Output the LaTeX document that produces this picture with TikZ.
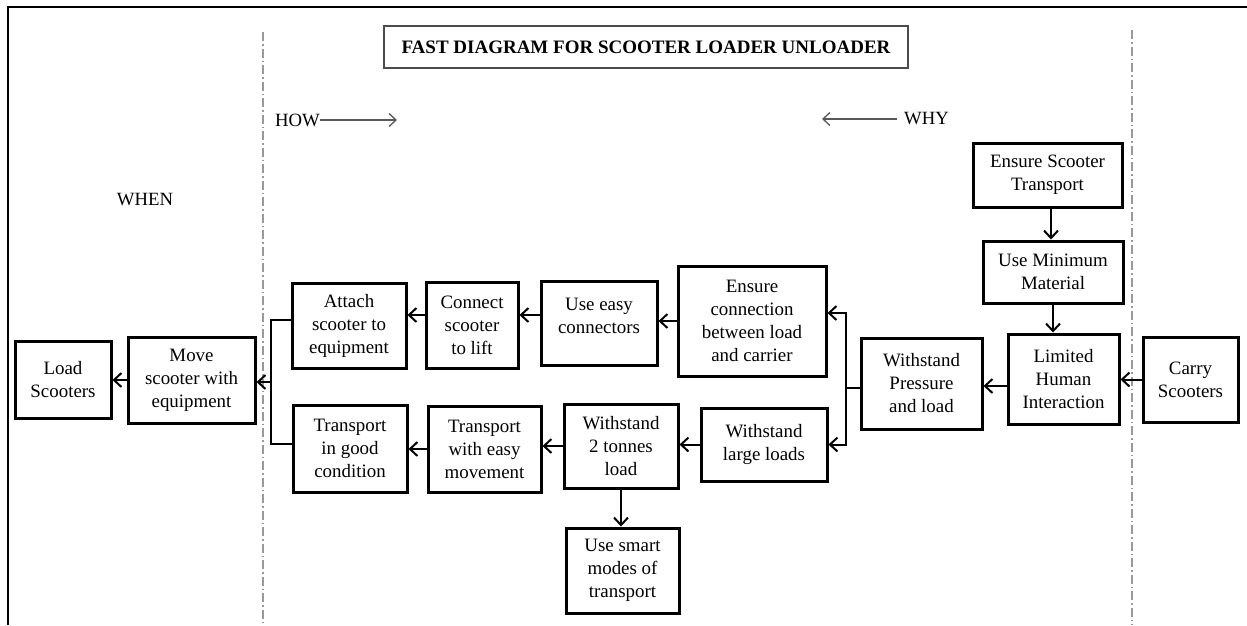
\documentclass[tikz,border=0pt]{standalone}
\usepackage{fontspec}
\setmainfont{Liberation Serif}
\usetikzlibrary{arrows.meta}
\begin{document}
\begin{tikzpicture}[x=1pt,y=-1pt,
  fbox/.style={draw, line width=3pt, align=center, inner sep=2pt, font=\fontsize{18.9}{23}\selectfont},
  arr/.style={line width=2pt, -{Straight Barb[length=7.5pt,width=14pt,line width=2pt]}},
  conn/.style={line width=2pt},
  guide/.style={draw=gray!80, line width=1.4pt, dash pattern=on 9pt off 3pt on 1.5pt off 3pt},
  lab/.style={font=\fontsize{18.7}{23}\selectfont, inner sep=0pt},
  thinarr/.style={draw=black!65, line width=1.3pt, -{Straight Barb[length=7pt,width=13pt,line width=1.3pt]}}
]
\useasboundingbox (0,0) rectangle (1247,625);
% frame and guide lines
\draw[line width=2pt] (8,625) -- (8,7) -- (1247,7);
\draw[guide] (263,32) -- (263,625);
\draw[guide] (1132,30) -- (1132,625);
% title
\node[draw=black!70, line width=1.3pt, minimum width=524pt, minimum height=42pt, inner sep=0pt,
  font=\fontsize{19}{23}\selectfont\bfseries] (title) at (646,47) {FAST DIAGRAM FOR SCOOTER LOADER UNLOADER};
% HOW / WHY / WHEN
\node[lab, anchor=west] (how) at (275,120) {HOW};
\coordinate (howend) at (397,120);
\draw[thinarr] (how.east) -- (howend);
\node[lab, anchor=west] (why) at (904,119) {WHY};
\coordinate (whystart) at (897,119);
\coordinate (whyend) at (822,119);
\draw[thinarr] (whystart) -- (whyend);
\node[lab] (when) at (145,200) {WHEN};
% boxes
\node[fbox, minimum width=96pt, minimum height=77pt] (load) at (63,379.5) {Load\\Scooters};
\node[fbox, minimum width=127pt, minimum height=86pt] (move) at (191.5,380) {Move\\scooter with\\equipment};
\node[fbox, minimum width=114pt, minimum height=85pt] (attach) at (349,325.5) {Attach\\scooter to\\equipment};
\node[fbox, minimum width=114pt, minimum height=87pt] (tgood) at (350,448.5) {Transport\\in good\\condition};
\node[fbox, minimum width=92pt, minimum height=86pt] (connect) at (472,325) {Connect\\scooter\\to lift};
\node[fbox, minimum width=116pt, minimum height=84pt, text depth=14pt] (easy) at (599,323) {Use easy\\connectors};
\node[fbox, minimum width=148pt, minimum height=110pt] (ensure) at (752,321) {Ensure\\connection\\between load\\and carrier};
\node[fbox, minimum width=113pt, minimum height=86pt] (tmove) at (484.5,449) {Transport\\with easy\\movement};
\node[fbox, minimum width=114pt, minimum height=84pt] (wtwo) at (621,446) {Withstand\\2 tonnes\\load};
\node[fbox, minimum width=126pt, minimum height=73pt] (wlarge) at (764,444.5) {Withstand\\large loads};
\node[fbox, minimum width=113pt, minimum height=85pt] (smart) at (622.5,570.5) {Use smart\\modes of\\transport};
\node[fbox, minimum width=121pt, minimum height=91pt] (wpress) at (921.5,383.5) {Withstand\\Pressure\\and load};
\node[fbox, minimum width=111pt, minimum height=90pt] (limited) at (1063.5,379) {Limited\\Human\\Interaction};
\node[fbox, minimum width=95pt, minimum height=85pt] (carry) at (1190.5,379.5) {Carry\\Scooters};
\node[fbox, minimum width=149pt, minimum height=64pt] (ensureT) at (1047.5,175) {Ensure Scooter\\Transport};
\node[fbox, minimum width=140pt, minimum height=62pt] (usemin) at (1053,272) {Use Minimum\\Material};
% connectors: left part
\draw[arr] (move.west) -- (load.east |- move.west);
\coordinate (bl) at (271,382);
\coordinate (a1) at ([yshift=6pt]attach.west);
\coordinate (g1) at ([yshift=5pt]tgood.west);
\draw[conn] (a1) -| (bl) |- (g1);
\draw[arr] (bl) -- (move.east |- bl);
\coordinate (c1) at ([yshift=10pt]connect.west);
\draw[arr] (c1) -- (attach.east |- c1);
\coordinate (u1) at ([yshift=8pt]easy.west);
\draw[arr] (u1) -- (connect.east |- u1);
\draw[arr] (ensure.west) -- (easy.east |- ensure.west);
% bottom row
\draw[arr] (wlarge.west) -- (wtwo.east |- wlarge.west);
\draw[arr] (wtwo.west) -- (tmove.east |- wtwo.west);
\draw[arr] (tmove.west) -- (tgood.east |- tmove.west);
\draw[arr] (wtwo.south) -- (smart.north -| wtwo.south);
% right bracket
\coordinate (br) at (846,388);
\draw[conn] (wpress.west |- br) -- (br);
\coordinate (e1) at ([yshift=8pt]ensure.east);
\draw[arr] (br) |- (e1);
\draw[arr] (br) |- (wlarge.east);
% right part
\coordinate (l1) at ([yshift=-7pt]limited.west);
\draw[arr] (l1) -- (wpress.east |- l1);
\draw[arr] (carry.west) -- (limited.east |- carry.west);
\coordinate (t1) at ([xshift=3.5pt]ensureT.south);
\draw[arr] (t1) -- (usemin.north -| t1);
\draw[arr] (usemin.south) -- (limited.north -| usemin.south);
\end{tikzpicture}
\end{document}
